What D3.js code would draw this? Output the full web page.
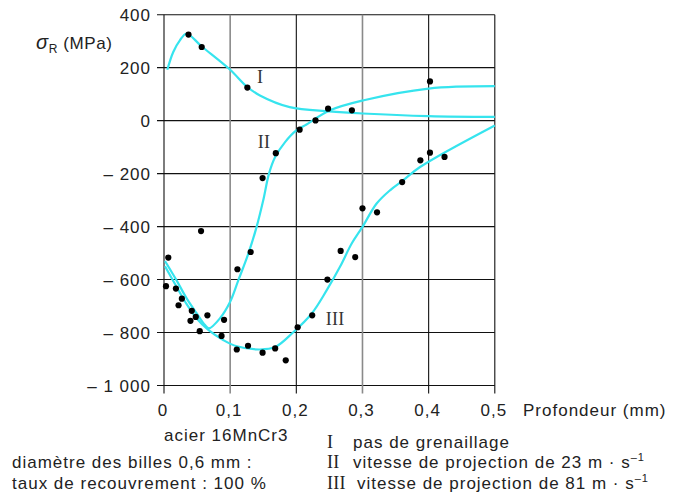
<!DOCTYPE html>
<html><head><meta charset="utf-8">
<script src="https://cdn.jsdelivr.net/npm/d3@7/dist/d3.min.js"></script>
<style>
html,body{margin:0;padding:0;background:#fff;}
svg text{font-family:"Liberation Sans",Arial,Helvetica,sans-serif;}
svg text.serif{font-family:"Liberation Serif","Times New Roman",serif;}
</style></head>
<body>
<svg id="c" width="673" height="495"></svg>
<script>
// ---- data ----
const xTicks = [0, 0.1, 0.2, 0.3, 0.4, 0.5];
const xTickLabels = ["0", "0,1", "0,2", "0,3", "0,4", "0,5"];
const yTicks = [400, 200, 0, -200, -400, -600, -800, -1000];
const yTickLabels = ["400", "200", "0", "\u2013 200", "\u2013 400", "\u2013 600", "\u2013 800", "\u2013 1 000"];

// fitted curves (depth mm, stress MPa)
const curveIDepth  = [0.005, 0.014, 0.024, 0.034, 0.057, 0.1, 0.125, 0.145, 0.19, 0.25, 0.3, 0.4, 0.5];
const curveIStress = [192, 259, 303, 328, 280, 192, 129, 95, 51, 35, 27, 17, 14];
const curveIIDepth  = [0.0015, 0.019, 0.034, 0.0495, 0.062, 0.068, 0.085, 0.0998, 0.1123, 0.1275, 0.14, 0.15, 0.1587, 0.168, 0.183, 0.2, 0.213, 0.251, 0.302, 0.4, 0.5];
const curveIIStress = [-530, -603, -670, -728, -772, -784, -745, -685, -603, -502, -401, -301, -200, -137, -81, -37, -18, 39, 77, 121, 130];
const curveIIIDepth  = [0.0015, 0.019, 0.034, 0.0495, 0.067, 0.09, 0.11, 0.145, 0.168, 0.195, 0.2233, 0.246, 0.266, 0.2837, 0.3, 0.3214, 0.3416, 0.3617, 0.387, 0.5];
const curveIIIStress = [-550, -627, -692, -747, -790, -829, -852, -864, -855, -800, -728, -640, -552, -464, -401, -313, -263, -225, -175, -18];

// measured points
const pointsIDepth  = [0.037, 0.057, 0.126, 0.248, 0.284];
const pointsIStress = [325, 278, 125, 45, 39];
const pointsIIDepth  = [0.0065, 0.018, 0.027, 0.042, 0.056, 0.0656, 0.0908, 0.111, 0.131, 0.149, 0.169, 0.205, 0.229, 0.402];
const pointsIIStress = [-517, -634, -672, -718, -417, -735, -752, -561, -496, -217, -123, -34, 1, 148];
const pointsIIIDepth  = [0.003, 0.022, 0.040, 0.048, 0.054, 0.087, 0.110, 0.127, 0.149, 0.168, 0.184, 0.202, 0.224, 0.247, 0.267, 0.289, 0.300, 0.322, 0.360, 0.3875, 0.402, 0.424];
const pointsIIIStress = [-625, -697, -756, -741, -795, -813, -864, -850, -876, -860, -905, -780, -735, -600, -492, -515, -331, -346, -232, -150, -121, -137];

const curveLabels = ["I", "II", "III"];
const curveLabelPos = [[0.1405, 142], [0.1417, -102], [0.2444, -772]];
const legendTexts = ["pas de grenaillage", "vitesse de projection de 23 m \u00b7 s", "vitesse de projection de 81 m \u00b7 s"];
const noteTexts = ["acier 16MnCr3", "diam\u00e8tre des billes 0,6 mm :", "taux de recouvrement : 100 %"];

// ---- drawing ----
const svg = d3.select("#c");
const x = d3.scaleLinear().domain([0, 0.5]).range([164, 494.8]);
const y = d3.scaleLinear().domain([-1000, 400]).range([385.5, 14.7]);
const CYAN = "#36e4ee";
const FS = 17, LS = 1;

// horizontal grid lines (black) with left ticks
svg.append("g").selectAll("line").data(yTicks).join("line")
  .attr("x1", x(0) - 7).attr("x2", x(0.5))
  .attr("y1", d => y(d)).attr("y2", d => y(d))
  .attr("stroke", "#111").attr("stroke-width", 1.1);

// vertical grid lines with bottom ticks
svg.append("g").selectAll("line").data(xTicks).join("line")
  .attr("x1", d => x(d)).attr("x2", d => x(d))
  .attr("y1", y(400)).attr("y2", y(-1000) + 8)
  .attr("stroke", (d, i) => (i === 1 || i === 3) ? "#8a8a8a" : "#111")
  .attr("stroke-width", (d, i) => (i === 1 || i === 3) ? 1.6 : 1.1);

// y tick labels
svg.append("g").selectAll("text").data(yTicks).join("text")
  .attr("x", 151).attr("y", d => y(d) + 6)
  .attr("text-anchor", "end")
  .attr("font-size", FS).attr("letter-spacing", LS).attr("fill", "#222")
  .text((d, i) => yTickLabels[i]);

// x tick labels
svg.append("g").selectAll("text").data(xTicks).join("text")
  .attr("x", d => x(d) - 1).attr("y", 416)
  .attr("text-anchor", "middle")
  .attr("font-size", FS).attr("letter-spacing", LS).attr("fill", "#222")
  .text((d, i) => xTickLabels[i]);

svg.append("text").attr("x", 523).attr("y", 416)
  .attr("font-size", FS).attr("letter-spacing", LS).attr("fill", "#222")
  .text("Profondeur (mm)");

// y axis title
const yt = svg.append("text").attr("x", 36).attr("y", 49)
  .attr("font-size", FS).attr("letter-spacing", 0.6).attr("fill", "#222");
yt.append("tspan").attr("font-style", "italic").attr("font-size", 20).text("\u03c3");
yt.append("tspan").attr("font-size", 12).attr("dy", 4).text("R");
yt.append("tspan").attr("dy", -4).text(" (MPa)");

// curves
const line = d3.line().x(d => x(d[0])).y(d => y(d[1])).curve(d3.curveCatmullRom.alpha(0.5));
const curves = [
  d3.zip(curveIDepth, curveIStress),
  d3.zip(curveIIDepth, curveIIStress),
  d3.zip(curveIIIDepth, curveIIIStress)
];
svg.append("g").selectAll("path").data(curves).join("path")
  .attr("d", line).attr("fill", "none")
  .attr("stroke", CYAN).attr("stroke-width", 2.2);

// points
const pts = [].concat(
  d3.zip(pointsIDepth, pointsIStress),
  d3.zip(pointsIIDepth, pointsIIStress),
  d3.zip(pointsIIIDepth, pointsIIIStress)
);
svg.append("g").selectAll("circle").data(pts).join("circle")
  .attr("cx", d => x(d[0])).attr("cy", d => y(d[1])).attr("r", 3.1)
  .attr("fill", "#000");

// curve labels (serif roman numerals)
svg.append("g").selectAll("text").data(curveLabels).join("text")
  .attr("class", "serif")
  .attr("x", (d, i) => x(curveLabelPos[i][0])).attr("y", (d, i) => y(curveLabelPos[i][1]))
  .attr("font-size", 18).attr("letter-spacing", 0.3).attr("fill", "#333")
  .text(d => d);

// notes (left bottom)
svg.append("text").attr("x", 164).attr("y", 441)
  .attr("font-size", FS).attr("letter-spacing", LS).attr("fill", "#222").text(noteTexts[0]);
svg.append("text").attr("x", 12).attr("y", 468)
  .attr("font-size", FS).attr("letter-spacing", LS).attr("fill", "#222").text(noteTexts[1]);
svg.append("text").attr("x", 12).attr("y", 489)
  .attr("font-size", FS).attr("letter-spacing", LS).attr("fill", "#222").text(noteTexts[2]);

// legend (right bottom)
const legY = [448, 468, 489];
const legX = [353, 353, 357];
curveLabels.forEach((lab, i) => {
  svg.append("text").attr("class", "serif").attr("x", 327).attr("y", legY[i])
    .attr("font-size", 18).attr("letter-spacing", 0.3).attr("fill", "#222").text(lab);
  const t = svg.append("text").attr("x", legX[i]).attr("y", legY[i])
    .attr("font-size", FS).attr("letter-spacing", LS).attr("fill", "#222");
  t.append("tspan").text(legendTexts[i]);
  if (i > 0) t.append("tspan").attr("font-size", 11).attr("dy", -7).text("\u20131");
});
</script>
</body></html>
